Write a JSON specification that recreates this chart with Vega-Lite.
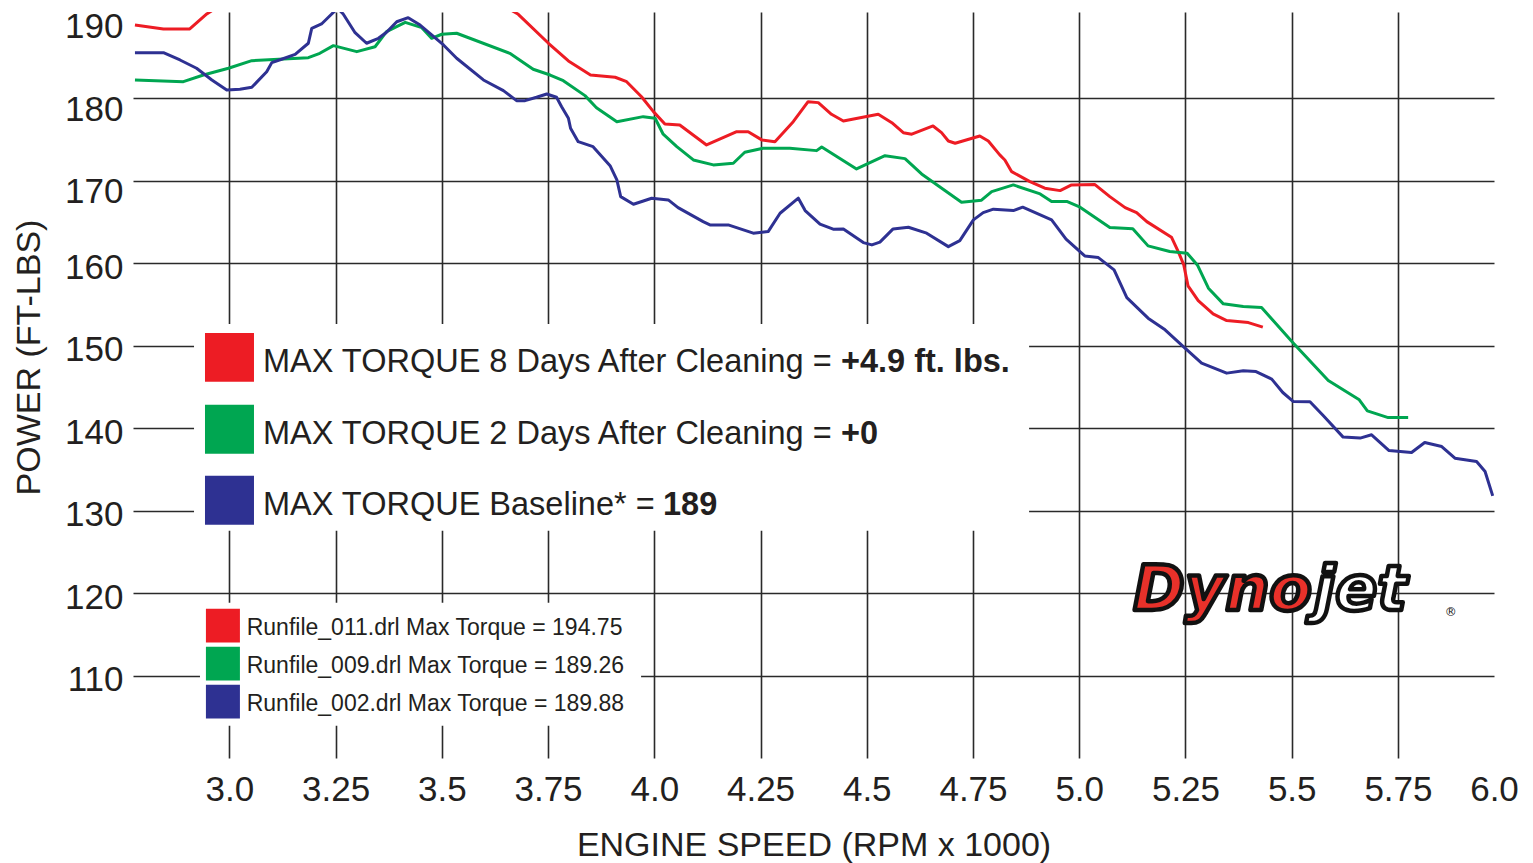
{
  "$schema": "https://vega.github.io/schema/vega-lite/v6.json",
  "width": 1361,
  "height": 746,
  "autosize": {"type": "none"},
  "padding": {"left": 133, "top": 12, "right": 39, "bottom": 105},
  "background": "white",
  "config": {"view": {"stroke": null}, "font": "Liberation Sans"},
  "datasets": {
    "runs": [
      {"run": "Runfile_011.drl", "rpm": 2.778, "tq": 188.88},
      {"run": "Runfile_011.drl", "rpm": 2.845, "tq": 188.40},
      {"run": "Runfile_011.drl", "rpm": 2.907, "tq": 188.40},
      {"run": "Runfile_011.drl", "rpm": 2.947, "tq": 190.22},
      {"run": "Runfile_011.drl", "rpm": 3.0, "tq": 192.0},
      {"run": "Runfile_011.drl", "rpm": 3.1, "tq": 193.2},
      {"run": "Runfile_011.drl", "rpm": 3.2, "tq": 193.6},
      {"run": "Runfile_011.drl", "rpm": 3.3, "tq": 194.1},
      {"run": "Runfile_011.drl", "rpm": 3.4, "tq": 194.75},
      {"run": "Runfile_011.drl", "rpm": 3.5, "tq": 194.2},
      {"run": "Runfile_011.drl", "rpm": 3.6, "tq": 192.6},
      {"run": "Runfile_011.drl", "rpm": 3.680, "tq": 190.18},
      {"run": "Runfile_011.drl", "rpm": 3.751, "tq": 186.67},
      {"run": "Runfile_011.drl", "rpm": 3.798, "tq": 184.52},
      {"run": "Runfile_011.drl", "rpm": 3.850, "tq": 182.82},
      {"run": "Runfile_011.drl", "rpm": 3.908, "tq": 182.55},
      {"run": "Runfile_011.drl", "rpm": 3.935, "tq": 182.01},
      {"run": "Runfile_011.drl", "rpm": 3.970, "tq": 180.19},
      {"run": "Runfile_011.drl", "rpm": 3.998, "tq": 178.38},
      {"run": "Runfile_011.drl", "rpm": 4.025, "tq": 176.88},
      {"run": "Runfile_011.drl", "rpm": 4.060, "tq": 176.76},
      {"run": "Runfile_011.drl", "rpm": 4.123, "tq": 174.34},
      {"run": "Runfile_011.drl", "rpm": 4.194, "tq": 175.95},
      {"run": "Runfile_011.drl", "rpm": 4.221, "tq": 175.95},
      {"run": "Runfile_011.drl", "rpm": 4.253, "tq": 174.95},
      {"run": "Runfile_011.drl", "rpm": 4.284, "tq": 174.74},
      {"run": "Runfile_011.drl", "rpm": 4.327, "tq": 177.16},
      {"run": "Runfile_011.drl", "rpm": 4.362, "tq": 179.59},
      {"run": "Runfile_011.drl", "rpm": 4.386, "tq": 179.47},
      {"run": "Runfile_011.drl", "rpm": 4.417, "tq": 178.06},
      {"run": "Runfile_011.drl", "rpm": 4.445, "tq": 177.25},
      {"run": "Runfile_011.drl", "rpm": 4.527, "tq": 178.06},
      {"run": "Runfile_011.drl", "rpm": 4.559, "tq": 177.04},
      {"run": "Runfile_011.drl", "rpm": 4.586, "tq": 175.83},
      {"run": "Runfile_011.drl", "rpm": 4.606, "tq": 175.64},
      {"run": "Runfile_011.drl", "rpm": 4.656, "tq": 176.64},
      {"run": "Runfile_011.drl", "rpm": 4.676, "tq": 175.83},
      {"run": "Runfile_011.drl", "rpm": 4.692, "tq": 174.82},
      {"run": "Runfile_011.drl", "rpm": 4.708, "tq": 174.55},
      {"run": "Runfile_011.drl", "rpm": 4.766, "tq": 175.43},
      {"run": "Runfile_011.drl", "rpm": 4.786, "tq": 174.82},
      {"run": "Runfile_011.drl", "rpm": 4.813, "tq": 173.13},
      {"run": "Runfile_011.drl", "rpm": 4.825, "tq": 172.52},
      {"run": "Runfile_011.drl", "rpm": 4.841, "tq": 171.10},
      {"run": "Runfile_011.drl", "rpm": 4.884, "tq": 169.89},
      {"run": "Runfile_011.drl", "rpm": 4.919, "tq": 169.09},
      {"run": "Runfile_011.drl", "rpm": 4.955, "tq": 168.80},
      {"run": "Runfile_011.drl", "rpm": 4.982, "tq": 169.49},
      {"run": "Runfile_011.drl", "rpm": 5.037, "tq": 169.53},
      {"run": "Runfile_011.drl", "rpm": 5.072, "tq": 168.07},
      {"run": "Runfile_011.drl", "rpm": 5.108, "tq": 166.74},
      {"run": "Runfile_011.drl", "rpm": 5.135, "tq": 166.13},
      {"run": "Runfile_011.drl", "rpm": 5.159, "tq": 165.04},
      {"run": "Runfile_011.drl", "rpm": 5.217, "tq": 163.15},
      {"run": "Runfile_011.drl", "rpm": 5.233, "tq": 161.41},
      {"run": "Runfile_011.drl", "rpm": 5.246, "tq": 159.79},
      {"run": "Runfile_011.drl", "rpm": 5.256, "tq": 157.25},
      {"run": "Runfile_011.drl", "rpm": 5.280, "tq": 155.47},
      {"run": "Runfile_011.drl", "rpm": 5.315, "tq": 153.85},
      {"run": "Runfile_011.drl", "rpm": 5.347, "tq": 153.04},
      {"run": "Runfile_011.drl", "rpm": 5.398, "tq": 152.80},
      {"run": "Runfile_011.drl", "rpm": 5.432, "tq": 152.24},

      {"run": "Runfile_009.drl", "rpm": 2.778, "tq": 182.22},
      {"run": "Runfile_009.drl", "rpm": 2.892, "tq": 182.01},
      {"run": "Runfile_009.drl", "rpm": 2.939, "tq": 182.82},
      {"run": "Runfile_009.drl", "rpm": 2.998, "tq": 183.64},
      {"run": "Runfile_009.drl", "rpm": 3.053, "tq": 184.56},
      {"run": "Runfile_009.drl", "rpm": 3.186, "tq": 184.92},
      {"run": "Runfile_009.drl", "rpm": 3.213, "tq": 185.45},
      {"run": "Runfile_009.drl", "rpm": 3.245, "tq": 186.38},
      {"run": "Runfile_009.drl", "rpm": 3.300, "tq": 185.65},
      {"run": "Runfile_009.drl", "rpm": 3.343, "tq": 186.25},
      {"run": "Runfile_009.drl", "rpm": 3.370, "tq": 188.07},
      {"run": "Runfile_009.drl", "rpm": 3.414, "tq": 189.21},
      {"run": "Runfile_009.drl", "rpm": 3.453, "tq": 188.56},
      {"run": "Runfile_009.drl", "rpm": 3.476, "tq": 187.27},
      {"run": "Runfile_009.drl", "rpm": 3.500, "tq": 187.76},
      {"run": "Runfile_009.drl", "rpm": 3.535, "tq": 187.88},
      {"run": "Runfile_009.drl", "rpm": 3.660, "tq": 185.45},
      {"run": "Runfile_009.drl", "rpm": 3.715, "tq": 183.52},
      {"run": "Runfile_009.drl", "rpm": 3.755, "tq": 182.82},
      {"run": "Runfile_009.drl", "rpm": 3.786, "tq": 182.13},
      {"run": "Runfile_009.drl", "rpm": 3.837, "tq": 180.32},
      {"run": "Runfile_009.drl", "rpm": 3.864, "tq": 178.86},
      {"run": "Runfile_009.drl", "rpm": 3.912, "tq": 177.16},
      {"run": "Runfile_009.drl", "rpm": 3.974, "tq": 177.77},
      {"run": "Runfile_009.drl", "rpm": 4.002, "tq": 177.58},
      {"run": "Runfile_009.drl", "rpm": 4.021, "tq": 175.64},
      {"run": "Runfile_009.drl", "rpm": 4.053, "tq": 174.13},
      {"run": "Runfile_009.drl", "rpm": 4.092, "tq": 172.52},
      {"run": "Runfile_009.drl", "rpm": 4.139, "tq": 171.92},
      {"run": "Runfile_009.drl", "rpm": 4.186, "tq": 172.12},
      {"run": "Runfile_009.drl", "rpm": 4.213, "tq": 173.45},
      {"run": "Runfile_009.drl", "rpm": 4.256, "tq": 173.94},
      {"run": "Runfile_009.drl", "rpm": 4.319, "tq": 173.94},
      {"run": "Runfile_009.drl", "rpm": 4.382, "tq": 173.65},
      {"run": "Runfile_009.drl", "rpm": 4.394, "tq": 174.10},
      {"run": "Runfile_009.drl", "rpm": 4.476, "tq": 171.43},
      {"run": "Runfile_009.drl", "rpm": 4.543, "tq": 173.04},
      {"run": "Runfile_009.drl", "rpm": 4.590, "tq": 172.68},
      {"run": "Runfile_009.drl", "rpm": 4.629, "tq": 170.82},
      {"run": "Runfile_009.drl", "rpm": 4.723, "tq": 167.39},
      {"run": "Runfile_009.drl", "rpm": 4.770, "tq": 167.64},
      {"run": "Runfile_009.drl", "rpm": 4.794, "tq": 168.68},
      {"run": "Runfile_009.drl", "rpm": 4.845, "tq": 169.49},
      {"run": "Runfile_009.drl", "rpm": 4.908, "tq": 168.40},
      {"run": "Runfile_009.drl", "rpm": 4.935, "tq": 167.47},
      {"run": "Runfile_009.drl", "rpm": 4.972, "tq": 167.47},
      {"run": "Runfile_009.drl", "rpm": 5.002, "tq": 166.79},
      {"run": "Runfile_009.drl", "rpm": 5.072, "tq": 164.32},
      {"run": "Runfile_009.drl", "rpm": 5.126, "tq": 164.19},
      {"run": "Runfile_009.drl", "rpm": 5.162, "tq": 162.10},
      {"run": "Runfile_009.drl", "rpm": 5.213, "tq": 161.41},
      {"run": "Runfile_009.drl", "rpm": 5.254, "tq": 161.21},
      {"run": "Runfile_009.drl", "rpm": 5.278, "tq": 159.79},
      {"run": "Runfile_009.drl", "rpm": 5.304, "tq": 156.97},
      {"run": "Runfile_009.drl", "rpm": 5.339, "tq": 155.07},
      {"run": "Runfile_009.drl", "rpm": 5.386, "tq": 154.74},
      {"run": "Runfile_009.drl", "rpm": 5.429, "tq": 154.62},
      {"run": "Runfile_009.drl", "rpm": 5.504, "tq": 150.30},
      {"run": "Runfile_009.drl", "rpm": 5.586, "tq": 145.77},
      {"run": "Runfile_009.drl", "rpm": 5.659, "tq": 143.43},
      {"run": "Runfile_009.drl", "rpm": 5.678, "tq": 142.10},
      {"run": "Runfile_009.drl", "rpm": 5.727, "tq": 141.28},
      {"run": "Runfile_009.drl", "rpm": 5.774, "tq": 141.28},

      {"run": "Runfile_002.drl", "rpm": 2.778, "tq": 185.53},
      {"run": "Runfile_002.drl", "rpm": 2.845, "tq": 185.53},
      {"run": "Runfile_002.drl", "rpm": 2.884, "tq": 184.64},
      {"run": "Runfile_002.drl", "rpm": 2.923, "tq": 183.64},
      {"run": "Runfile_002.drl", "rpm": 2.959, "tq": 182.22},
      {"run": "Runfile_002.drl", "rpm": 2.994, "tq": 181.01},
      {"run": "Runfile_002.drl", "rpm": 3.025, "tq": 181.09},
      {"run": "Runfile_002.drl", "rpm": 3.053, "tq": 181.33},
      {"run": "Runfile_002.drl", "rpm": 3.088, "tq": 183.22},
      {"run": "Runfile_002.drl", "rpm": 3.100, "tq": 184.32},
      {"run": "Runfile_002.drl", "rpm": 3.123, "tq": 184.73},
      {"run": "Runfile_002.drl", "rpm": 3.155, "tq": 185.33},
      {"run": "Runfile_002.drl", "rpm": 3.186, "tq": 186.67},
      {"run": "Runfile_002.drl", "rpm": 3.194, "tq": 188.48},
      {"run": "Runfile_002.drl", "rpm": 3.217, "tq": 189.01},
      {"run": "Runfile_002.drl", "rpm": 3.241, "tq": 190.22},
      {"run": "Runfile_002.drl", "rpm": 3.255, "tq": 190.9},
      {"run": "Runfile_002.drl", "rpm": 3.268, "tq": 190.22},
      {"run": "Runfile_002.drl", "rpm": 3.296, "tq": 187.95},
      {"run": "Runfile_002.drl", "rpm": 3.323, "tq": 186.67},
      {"run": "Runfile_002.drl", "rpm": 3.351, "tq": 187.27},
      {"run": "Runfile_002.drl", "rpm": 3.370, "tq": 188.00},
      {"run": "Runfile_002.drl", "rpm": 3.394, "tq": 189.28},
      {"run": "Runfile_002.drl", "rpm": 3.421, "tq": 189.77},
      {"run": "Runfile_002.drl", "rpm": 3.449, "tq": 188.88},
      {"run": "Runfile_002.drl", "rpm": 3.472, "tq": 187.88},
      {"run": "Runfile_002.drl", "rpm": 3.504, "tq": 186.46},
      {"run": "Runfile_002.drl", "rpm": 3.535, "tq": 184.85},
      {"run": "Runfile_002.drl", "rpm": 3.598, "tq": 182.22},
      {"run": "Runfile_002.drl", "rpm": 3.645, "tq": 180.92},
      {"run": "Runfile_002.drl", "rpm": 3.676, "tq": 179.71},
      {"run": "Runfile_002.drl", "rpm": 3.696, "tq": 179.71},
      {"run": "Runfile_002.drl", "rpm": 3.723, "tq": 180.12},
      {"run": "Runfile_002.drl", "rpm": 3.747, "tq": 180.52},
      {"run": "Runfile_002.drl", "rpm": 3.770, "tq": 180.12},
      {"run": "Runfile_002.drl", "rpm": 3.782, "tq": 178.98},
      {"run": "Runfile_002.drl", "rpm": 3.798, "tq": 177.58},
      {"run": "Runfile_002.drl", "rpm": 3.803, "tq": 176.36},
      {"run": "Runfile_002.drl", "rpm": 3.821, "tq": 174.74},
      {"run": "Runfile_002.drl", "rpm": 3.856, "tq": 174.13},
      {"run": "Runfile_002.drl", "rpm": 3.896, "tq": 171.83},
      {"run": "Runfile_002.drl", "rpm": 3.912, "tq": 170.10},
      {"run": "Runfile_002.drl", "rpm": 3.921, "tq": 168.07},
      {"run": "Runfile_002.drl", "rpm": 3.951, "tq": 167.15},
      {"run": "Runfile_002.drl", "rpm": 3.994, "tq": 167.88},
      {"run": "Runfile_002.drl", "rpm": 4.033, "tq": 167.67},
      {"run": "Runfile_002.drl", "rpm": 4.056, "tq": 166.74},
      {"run": "Runfile_002.drl", "rpm": 4.115, "tq": 165.04},
      {"run": "Runfile_002.drl", "rpm": 4.131, "tq": 164.64},
      {"run": "Runfile_002.drl", "rpm": 4.174, "tq": 164.64},
      {"run": "Runfile_002.drl", "rpm": 4.233, "tq": 163.64},
      {"run": "Runfile_002.drl", "rpm": 4.268, "tq": 163.83},
      {"run": "Runfile_002.drl", "rpm": 4.296, "tq": 166.06},
      {"run": "Runfile_002.drl", "rpm": 4.339, "tq": 167.88},
      {"run": "Runfile_002.drl", "rpm": 4.355, "tq": 166.38},
      {"run": "Runfile_002.drl", "rpm": 4.390, "tq": 164.73},
      {"run": "Runfile_002.drl", "rpm": 4.421, "tq": 164.12},
      {"run": "Runfile_002.drl", "rpm": 4.445, "tq": 164.16},
      {"run": "Runfile_002.drl", "rpm": 4.492, "tq": 162.50},
      {"run": "Runfile_002.drl", "rpm": 4.512, "tq": 162.22},
      {"run": "Runfile_002.drl", "rpm": 4.531, "tq": 162.55},
      {"run": "Runfile_002.drl", "rpm": 4.562, "tq": 164.16},
      {"run": "Runfile_002.drl", "rpm": 4.598, "tq": 164.36},
      {"run": "Runfile_002.drl", "rpm": 4.641, "tq": 163.64},
      {"run": "Runfile_002.drl", "rpm": 4.692, "tq": 162.01},
      {"run": "Runfile_002.drl", "rpm": 4.719, "tq": 162.74},
      {"run": "Runfile_002.drl", "rpm": 4.751, "tq": 165.25},
      {"run": "Runfile_002.drl", "rpm": 4.774, "tq": 166.13},
      {"run": "Runfile_002.drl", "rpm": 4.798, "tq": 166.55},
      {"run": "Runfile_002.drl", "rpm": 4.845, "tq": 166.38},
      {"run": "Runfile_002.drl", "rpm": 4.867, "tq": 166.79},
      {"run": "Runfile_002.drl", "rpm": 4.935, "tq": 165.25},
      {"run": "Runfile_002.drl", "rpm": 4.969, "tq": 162.91},
      {"run": "Runfile_002.drl", "rpm": 5.013, "tq": 160.88},
      {"run": "Runfile_002.drl", "rpm": 5.045, "tq": 160.68},
      {"run": "Runfile_002.drl", "rpm": 5.082, "tq": 159.19},
      {"run": "Runfile_002.drl", "rpm": 5.112, "tq": 155.83},
      {"run": "Runfile_002.drl", "rpm": 5.162, "tq": 153.33},
      {"run": "Runfile_002.drl", "rpm": 5.202, "tq": 151.92},
      {"run": "Runfile_002.drl", "rpm": 5.245, "tq": 149.89},
      {"run": "Runfile_002.drl", "rpm": 5.288, "tq": 147.88},
      {"run": "Runfile_002.drl", "rpm": 5.347, "tq": 146.67},
      {"run": "Runfile_002.drl", "rpm": 5.386, "tq": 146.95},
      {"run": "Runfile_002.drl", "rpm": 5.416, "tq": 146.86},
      {"run": "Runfile_002.drl", "rpm": 5.453, "tq": 145.94},
      {"run": "Runfile_002.drl", "rpm": 5.479, "tq": 144.32},
      {"run": "Runfile_002.drl", "rpm": 5.504, "tq": 143.22},
      {"run": "Runfile_002.drl", "rpm": 5.543, "tq": 143.19},
      {"run": "Runfile_002.drl", "rpm": 5.574, "tq": 141.53},
      {"run": "Runfile_002.drl", "rpm": 5.621, "tq": 138.91},
      {"run": "Runfile_002.drl", "rpm": 5.661, "tq": 138.79},
      {"run": "Runfile_002.drl", "rpm": 5.688, "tq": 139.19},
      {"run": "Runfile_002.drl", "rpm": 5.729, "tq": 137.28},
      {"run": "Runfile_002.drl", "rpm": 5.782, "tq": 137.04},
      {"run": "Runfile_002.drl", "rpm": 5.813, "tq": 138.25},
      {"run": "Runfile_002.drl", "rpm": 5.853, "tq": 137.77},
      {"run": "Runfile_002.drl", "rpm": 5.884, "tq": 136.36},
      {"run": "Runfile_002.drl", "rpm": 5.935, "tq": 135.95},
      {"run": "Runfile_002.drl", "rpm": 5.955, "tq": 134.74},
      {"run": "Runfile_002.drl", "rpm": 5.973, "tq": 131.79}
    ]
  },
  "layer": [
    {
      "data": {"name": "runs"},
      "mark": {"type": "line", "strokeWidth": 3, "clip": true, "strokeJoin": "round"},
      "encoding": {
        "x": {
          "field": "rpm", "type": "quantitative",
          "scale": {"domain": [2.7734, 5.976], "nice": false, "zero": false},
          "axis": {
            "title": "ENGINE SPEED (RPM x 1000)",
            "values": [3, 3.25, 3.5, 3.75, 4, 4.25, 4.5, 4.75, 5, 5.25, 5.5, 5.75, 5.976],
            "labelExpr": "datum.value > 5.9 ? '6.0' : (datum.value == floor(datum.value) ? format(datum.value, '.1f') : format(datum.value, '.2~f'))",
            "grid": true, "gridColor": "#2a2a2a", "gridWidth": 1.6,
            "gridOpacity": {"condition": {"test": "datum.value > 5.9", "value": 0}, "value": 1},
            "domain": false, "ticks": false, "tickSize": 0,
            "labelFont": "Liberation Sans", "labelFontSize": 35, "labelColor": "#231f20",
            "labelBaseline": "alphabetic", "labelPadding": 42, "labelFlush": false, "labelOverlap": false, "labelBound": false,
            "titleFont": "Liberation Sans", "titleFontSize": 34, "titleFontWeight": "normal", "titleColor": "#231f20",
            "titleBaseline": "alphabetic", "titleY": 97, "titlePadding": 0
          }
        },
        "y": {
          "field": "tq", "type": "quantitative",
          "scale": {"domain": [100, 190.46], "nice": false, "zero": false},
          "axis": {
            "title": "POWER (FT-LBS)",
            "values": [110, 120, 130, 140, 150, 160, 170, 180, 190],
            "grid": true, "gridColor": "#2a2a2a", "gridWidth": 1.6,
            "gridOpacity": {"condition": {"test": "datum.value > 189", "value": 0}, "value": 1},
            "domain": false, "ticks": false, "tickSize": 0,
            "labelFont": "Liberation Sans", "labelFontSize": 35, "labelColor": "#231f20",
            "labelBaseline": "middle", "labelPadding": 10, "labelOverlap": false, "labelBound": false, "labelFlush": false,
            "labelOffset": {"condition": {"test": "datum.value >= 170", "value": 11}, "value": 4},
            "titleFont": "Liberation Sans", "titleFontSize": 34, "titleFontWeight": "normal", "titleColor": "#231f20",
            "titleAngle": -90, "titleBaseline": "middle", "titleAlign": "center", "titleX": -104, "titleY": 345
          }
        },
        "color": {
          "field": "run", "type": "nominal",
          "scale": {"domain": ["Runfile_011.drl", "Runfile_009.drl", "Runfile_002.drl"], "range": ["#ed1c24", "#00a651", "#2e3192"]},
          "legend": null
        }
      }
    },
    {
      "data": {"values": [{"box": "big"}]},
      "mark": {"type": "rect", "fill": "white", "stroke": null},
      "encoding": {"x": {"datum": 2.917}, "x2": {"datum": 4.882}, "y": {"datum": 127.55}, "y2": {"datum": 152.64}}
    },
    {
      "data": {"values": [{"box": "small"}]},
      "mark": {"type": "rect", "fill": "white", "stroke": null},
      "encoding": {"x": {"datum": 2.931}, "x2": {"datum": 3.969}, "y": {"datum": 103.92}, "y2": {"datum": 118.82}}
    },
    {
      "data": {"values": [{"run": "Runfile_011.drl"}]},
      "mark": {"type": "rect"},
      "encoding": {"x": {"datum": 2.9428}, "x2": {"datum": 3.0581}, "y": {"datum": 145.61}, "y2": {"datum": 151.55}, "color": {"field": "run", "type": "nominal", "legend": null}}
    },
    {
      "data": {"values": [{"run": "Runfile_009.drl"}]},
      "mark": {"type": "rect"},
      "encoding": {"x": {"datum": 2.9428}, "x2": {"datum": 3.0581}, "y": {"datum": 136.89}, "y2": {"datum": 142.82}, "color": {"field": "run", "type": "nominal", "legend": null}}
    },
    {
      "data": {"values": [{"run": "Runfile_002.drl"}]},
      "mark": {"type": "rect"},
      "encoding": {"x": {"datum": 2.9428}, "x2": {"datum": 3.0581}, "y": {"datum": 128.28}, "y2": {"datum": 134.22}, "color": {"field": "run", "type": "nominal", "legend": null}}
    },
    {
      "data": {"values": [{"run": "Runfile_011.drl"}]},
      "mark": {"type": "rect"},
      "encoding": {"x": {"datum": 2.945}, "x2": {"datum": 3.025}, "y": {"datum": 114.01}, "y2": {"datum": 118.1}, "color": {"field": "run", "type": "nominal", "legend": null}}
    },
    {
      "data": {"values": [{"run": "Runfile_009.drl"}]},
      "mark": {"type": "rect"},
      "encoding": {"x": {"datum": 2.945}, "x2": {"datum": 3.025}, "y": {"datum": 109.41}, "y2": {"datum": 113.49}, "color": {"field": "run", "type": "nominal", "legend": null}}
    },
    {
      "data": {"values": [{"run": "Runfile_002.drl"}]},
      "mark": {"type": "rect"},
      "encoding": {"x": {"datum": 2.945}, "x2": {"datum": 3.025}, "y": {"datum": 104.8}, "y2": {"datum": 108.89}, "color": {"field": "run", "type": "nominal", "legend": null}}
    },
    {
      "data": {"values": [{"label": ["MAX TORQUE 8 Days After Cleaning =", "MAX TORQUE 2 Days After Cleaning =", "MAX TORQUE Baseline* ="]}]},
      "mark": {"type": "text", "align": "left", "baseline": "alphabetic", "font": "Liberation Sans", "fontSize": 32.5, "lineHeight": 71.5, "color": "#231f20"},
      "encoding": {"x": {"datum": 3.0793}, "y": {"datum": 146.79}, "text": {"field": "label"}}
    },
    {
      "data": {"values": [{"label": ["+4.9 ft. lbs.", "+0"]}]},
      "mark": {"type": "text", "align": "left", "baseline": "alphabetic", "font": "Liberation Sans", "fontWeight": "bold", "fontSize": 32.5, "lineHeight": 71.5, "color": "#231f20"},
      "encoding": {"x": {"datum": 4.4393}, "y": {"datum": 146.79}, "text": {"field": "label"}}
    },
    {
      "data": {"values": [{"label": "189"}]},
      "mark": {"type": "text", "align": "left", "baseline": "alphabetic", "font": "Liberation Sans", "fontWeight": "bold", "fontSize": 32.5, "color": "#231f20"},
      "encoding": {"x": {"datum": 4.0205}, "y": {"datum": 129.45}, "text": {"field": "label"}}
    },
    {
      "data": {"values": [{"label": ["Runfile_011.drl Max Torque = 194.75", "Runfile_009.drl Max Torque = 189.26", "Runfile_002.drl Max Torque = 189.88"]}]},
      "mark": {"type": "text", "align": "left", "baseline": "alphabetic", "font": "Liberation Sans", "fontSize": 23, "lineHeight": 38, "color": "#231f20"},
      "encoding": {"x": {"datum": 3.041}, "y": {"datum": 114.86}, "text": {"field": "label"}}
    },
    {
      "data": {"values": [{"label": "Dyno"}]},
      "mark": {"type": "text", "align": "right", "baseline": "alphabetic", "font": "DejaVu Sans", "fontWeight": "bold", "fontStyle": "italic", "fontSize": 62, "fill": "#e8312a", "stroke": "#111111", "strokeWidth": 4.5, "strokeJoin": "round"},
      "encoding": {"x": {"datum": 5.5475}, "y": {"datum": 117.98}, "text": {"field": "label"}}
    },
    {
      "data": {"values": [{"label": "jet"}]},
      "mark": {"type": "text", "align": "left", "baseline": "alphabetic", "font": "DejaVu Sans", "fontWeight": "bold", "fontStyle": "italic", "fontSize": 62, "fill": "#ffffff", "stroke": "#111111", "strokeWidth": 4.5, "strokeJoin": "round"},
      "encoding": {"x": {"datum": 5.5525}, "y": {"datum": 117.98}, "text": {"field": "label"}}
    },
    {
      "data": {"values": [{"label": "®"}]},
      "mark": {"type": "text", "align": "left", "baseline": "alphabetic", "font": "DejaVu Sans", "fontSize": 12, "fill": "#111111"},
      "encoding": {"x": {"datum": 5.86}, "y": {"datum": 117.25}, "text": {"field": "label"}}
    }
  ]
}
